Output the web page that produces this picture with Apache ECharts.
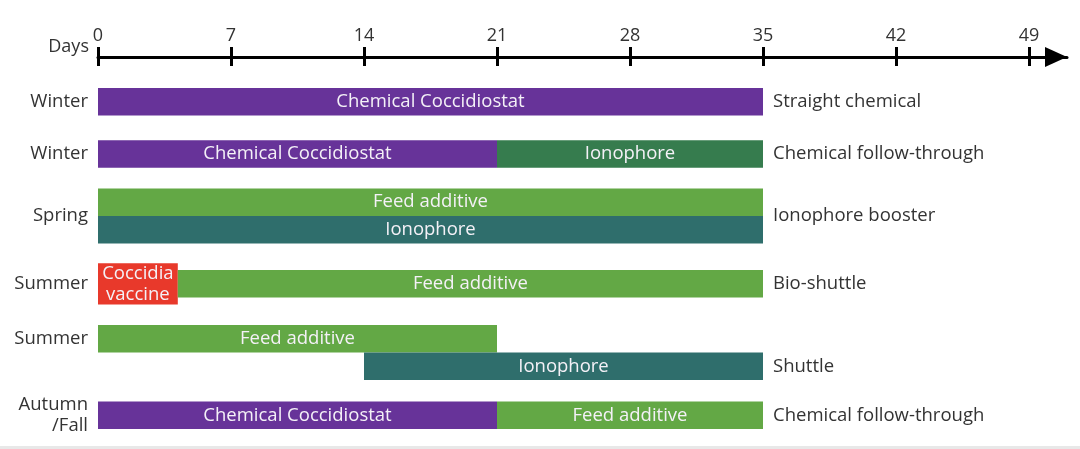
<!DOCTYPE html>
<html><head><meta charset="utf-8">
<script src="https://cdn.jsdelivr.net/npm/echarts@6/dist/echarts.min.js"></script>
<style>html,body{margin:0;padding:0;background:#fff}#c{width:1080px;height:449px}</style>
</head><body><div id="c"></div>
<script>
// ---- data ----
const dayTicks = [0, 7, 14, 21, 28, 35, 42, 49];
const groupNames = ['Winter', 'Winter', 'Spring', 'Summer', 'Summer', 'Autumn\n/Fall'];
const programNames = ['Straight chemical', 'Chemical follow-through', 'Ionophore booster', 'Bio-shuttle', 'Shuttle', 'Chemical follow-through'];
const barGroup = [0, 1, 1, 2, 2, 3, 3, 4, 4, 5, 5];
const barLane  = [0, 0, 0, 0, 1, -1, 0, 0, 1, 0, 0];
const barStart = [0, 0, 21, 0, 0, 0, 4.2, 0, 14, 0, 21];
const barEnd   = [35, 21, 35, 35, 35, 4.2, 35, 21, 35, 21, 35];
const barLabel = ['Chemical Coccidiostat', 'Chemical Coccidiostat', 'Ionophore', 'Feed additive', 'Ionophore',
                  'Coccidia\nvaccine', 'Feed additive', 'Feed additive', 'Ionophore', 'Chemical Coccidiostat', 'Feed additive'];
const barKind  = ['chem', 'chem', 'ionoA', 'feed', 'ionoB', 'vaccine', 'feed', 'feed', 'ionoB', 'chem', 'feed'];

// ---- styles / layout ----
const kindColor = { chem: '#673399', ionoA: '#367c4e', ionoB: '#2f6e6c', feed: '#63a845', vaccine: '#e8392b' };
const FONT = '"Open Sans", sans-serif';
const laneCount = [1, 1, 2, 1, 2, 1];
const groupHeight = [1, 1, 2, 1.5, 2, 1];
const gaps = [0.9, 0.75, 0.72, 0.75, 0.78];
const groupTop = [];
let acc = 0;
groupHeight.forEach((h, i) => { groupTop.push(acc); acc += h + (i < gaps.length ? gaps[i] : 0); });
const yMax = acc;
const leftLabelLane = [null, null, null, null, 0, null];
const rightLabelLane = [null, null, null, null, 1, null];

function laneCenter(g, lane) {
  if (lane == null) return groupTop[g] + groupHeight[g] / 2;
  const off = (groupHeight[g] - laneCount[g]) / 2;
  return groupTop[g] + off + lane + 0.5;
}

const barData = barGroup.map((g, i) => {
  let top, h;
  if (barLane[i] < 0) { top = groupTop[g]; h = groupHeight[g]; }
  else { top = laneCenter(g, barLane[i]) - 0.5; h = 1; }
  return [barStart[i], barEnd[i], top, h, i];
});

const labelData = groupNames.map((n, g) => {
  let gEnd = 0;
  barGroup.forEach((bg, i) => { if (bg === g) gEnd = Math.max(gEnd, barEnd[i]); });
  return [0, gEnd, laneCenter(g, leftLabelLane[g]), laneCenter(g, rightLabelLane[g]), g];
});

const chart = echarts.init(document.getElementById('c'), null, { renderer: 'canvas' });
chart.setOption({
  backgroundColor: '#fff',
  animation: false,
  grid: [
    { left: 98, right: 13, top: 56, height: 1 },
    { left: 98, right: 13, top: 88, bottom: 20 }
  ],
  xAxis: [
    {
      gridIndex: 0, type: 'value', position: 'top', min: 0, max: 51,
      name: 'Days', nameLocation: 'start', nameGap: 8,
      nameTextStyle: { color: '#333', fontFamily: FONT, fontSize: 18, verticalAlign: 'bottom', lineHeight: 20 },
      axisLine: { show: true, lineStyle: { color: '#000', width: 3 }, symbol: ['none', 'triangle'], symbolSize: [20, 22], symbolOffset: [0, -11] },
      axisTick: { show: true, length: 10, lineStyle: { color: '#000', width: 3 }, customValues: dayTicks },
      axisLabel: { show: true, margin: 11, color: '#333', fontFamily: FONT, fontSize: 18, customValues: dayTicks },
      splitLine: { show: false }
    },
    {
      gridIndex: 0, type: 'value', position: 'top', min: 0, max: 51,
      axisLine: { show: false },
      axisTick: { show: true, inside: true, length: 10, lineStyle: { color: '#000', width: 3 }, customValues: dayTicks },
      axisLabel: { show: false },
      splitLine: { show: false }
    },
    { gridIndex: 1, type: 'value', min: 0, max: 51, show: false }
  ],
  yAxis: [
    { gridIndex: 0, type: 'value', show: false },
    { gridIndex: 1, type: 'value', min: 0, max: yMax, inverse: true, show: false }
  ],
  series: [
    {
      type: 'custom', xAxisIndex: 2, yAxisIndex: 1,
      data: barData,
      renderItem(params, api) {
        const i = api.value(4);
        const p0 = api.coord([api.value(0), api.value(2)]);
        const p1 = api.coord([api.value(1), api.value(2) + api.value(3)]);
        return {
          type: 'rect',
          shape: { x: p0[0], y: p0[1], width: p1[0] - p0[0], height: p1[1] - p0[1] },
          style: { fill: kindColor[barKind[i]] },
          textContent: {
            style: { text: barLabel[i], fill: '#f4f1f7', fontFamily: FONT, fontSize: 18.5, lineHeight: 21, align: 'center', verticalAlign: 'middle' }
          },
          textConfig: { position: 'inside' }
        };
      }
    },
    {
      type: 'custom', xAxisIndex: 2, yAxisIndex: 1,
      data: labelData,
      renderItem(params, api) {
        const g = api.value(4);
        const pl = api.coord([api.value(0), api.value(2)]);
        const pr = api.coord([api.value(1), api.value(3)]);
        return {
          type: 'group',
          children: [
            { type: 'text', x: pl[0] - 10, y: pl[1],
              style: { text: groupNames[g], fill: '#333', fontFamily: FONT, fontSize: 18.5, lineHeight: 21, align: 'right', verticalAlign: 'middle' } },
            { type: 'text', x: pr[0] + 10, y: pr[1],
              style: { text: programNames[g], fill: '#333', fontFamily: FONT, fontSize: 18.5, align: 'left', verticalAlign: 'middle' } }
          ]
        };
      }
    }
  ],
  graphic: [
    { type: 'rect', left: 0, top: 446, shape: { width: 1080, height: 3 }, style: { fill: '#e8e8e8' }, silent: true }
  ]
});
</script></body></html>
